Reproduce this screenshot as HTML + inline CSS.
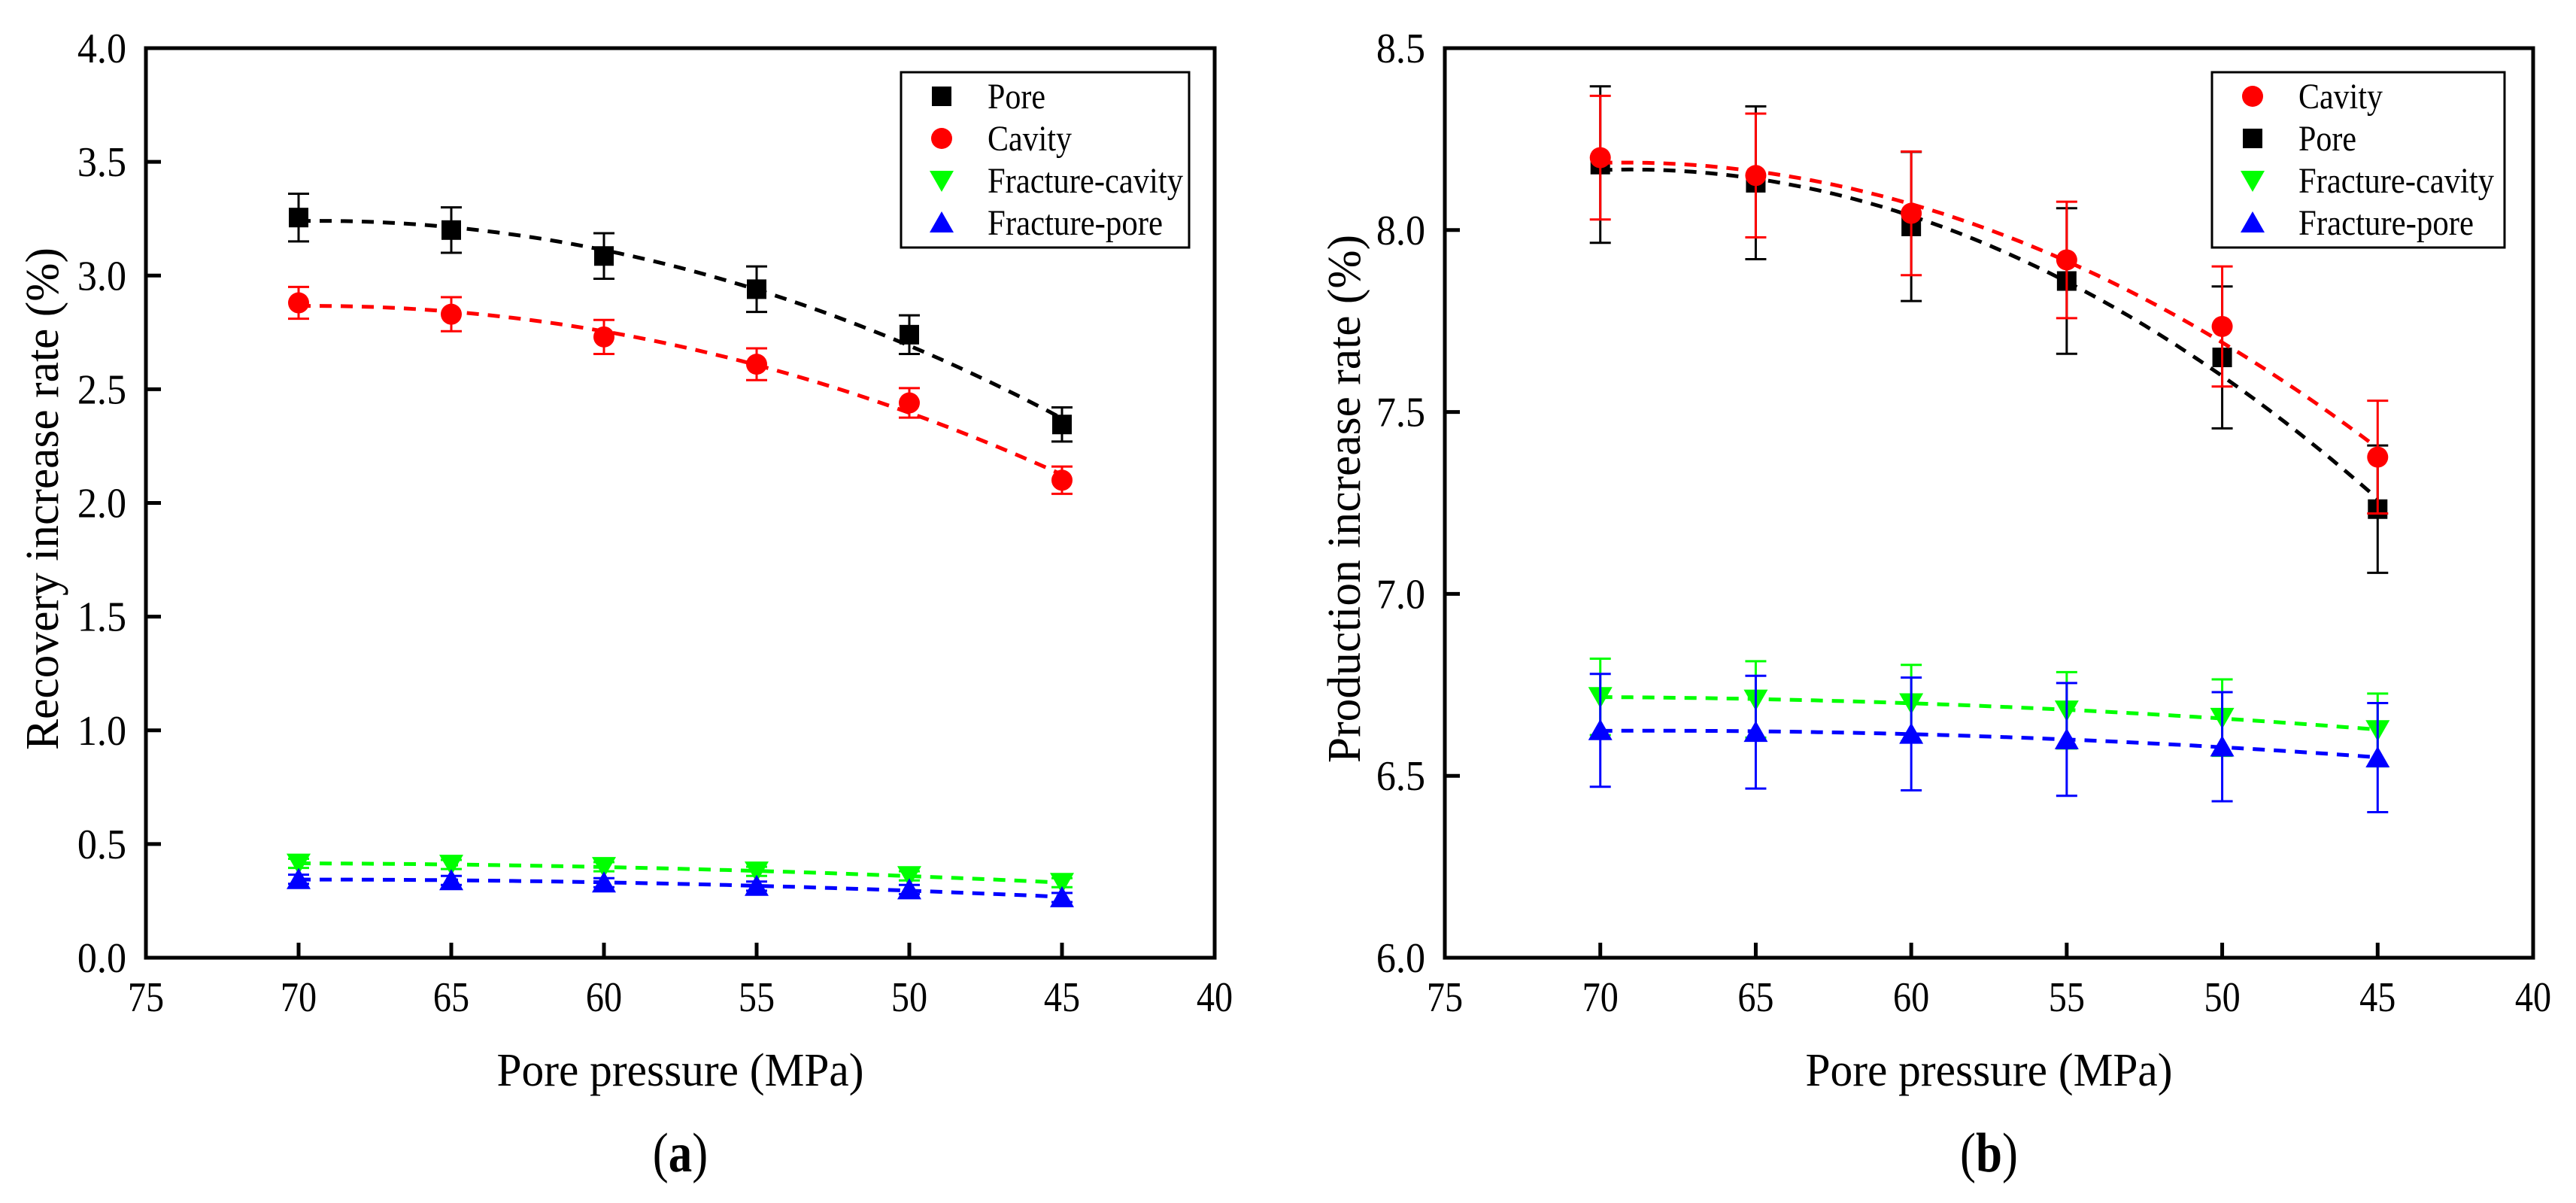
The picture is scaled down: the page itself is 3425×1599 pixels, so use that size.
<!DOCTYPE html>
<html><head><meta charset="utf-8">
<style>
html,body{margin:0;padding:0;background:#fff;}
svg{display:block;font-family:"Liberation Serif",serif;}
</style></head>
<body>
<svg id="fig" width="3425" height="1599" viewBox="0 0 3425 1599" xmlns="http://www.w3.org/2000/svg"></svg>
<script>
// ---- shared data ----
const pressures = [70, 65, 60, 55, 50, 45];
const xTicks = [75, 70, 65, 60, 55, 50, 45, 40];
// panel (a): recovery increase rate
const aYTicks = [0.0, 0.5, 1.0, 1.5, 2.0, 2.5, 3.0, 3.5, 4.0];
const aPore = [3.255, 3.20, 3.086, 2.94, 2.74, 2.345];
const aPoreErr = [0.105, 0.10, 0.10, 0.10, 0.085, 0.075];
const aCavity = [2.88, 2.83, 2.73, 2.61, 2.44, 2.10];
const aCavityErr = [0.07, 0.075, 0.075, 0.07, 0.065, 0.06];
const aFracCav = [0.415, 0.41, 0.40, 0.38, 0.36, 0.33];
const aFracCavErr = [0.02, 0.02, 0.02, 0.02, 0.02, 0.02];
const aFracPore = [0.345, 0.34, 0.33, 0.315, 0.30, 0.265];
const aFracPoreErr = [0.02, 0.02, 0.02, 0.02, 0.02, 0.02];
// panel (b): production increase rate
const bYTicks = [6.0, 6.5, 7.0, 7.5, 8.0, 8.5];
const bCavity = [8.199, 8.15, 8.046, 7.918, 7.735, 7.376];
const bCavityErr = [0.17, 0.17, 0.17, 0.16, 0.165, 0.155];
const bPore = [8.18, 8.13, 8.01, 7.86, 7.65, 7.233];
const bPoreErr = [0.215, 0.21, 0.205, 0.20, 0.195, 0.175];
const bFracCav = [6.717, 6.71, 6.70, 6.68, 6.66, 6.626];
const bFracCavErr = [0.105, 0.105, 0.105, 0.105, 0.105, 0.10];
const bFracPore = [6.625, 6.62, 6.615, 6.60, 6.58, 6.55];
const bFracPoreErr = [0.155, 0.155, 0.155, 0.155, 0.15, 0.15];

const NS = "http://www.w3.org/2000/svg";
const svg = document.getElementById('fig');
function el(tag, attrs, parent){
  const e = document.createElementNS(NS, tag);
  for (const k in attrs) e.setAttribute(k, attrs[k]);
  (parent||svg).appendChild(e);
  return e;
}
function squeeze(t, f){
  const w = t.getComputedTextLength();
  t.setAttribute('textLength', (w*f).toFixed(1));
  t.setAttribute('lengthAdjust', 'spacingAndGlyphs');
}
function fixLen(t, w){
  t.setAttribute('textLength', w);
  t.setAttribute('lengthAdjust', 'spacingAndGlyphs');
}
function quadFit(xs, ys){
  let S=[0,0,0,0,0], T=[0,0,0];
  for(let i=0;i<xs.length;i++){const x=xs[i]-57.5;let p=1;for(let k=0;k<5;k++){S[k]+=p; if(k<3)T[k]+=p*ys[i]; p*=x;}}
  const M=[[S[0],S[1],S[2],T[0]],[S[1],S[2],S[3],T[1]],[S[2],S[3],S[4],T[2]]];
  for(let i=0;i<3;i++){for(let j=i+1;j<3;j++){const f=M[j][i]/M[i][i];for(let k=i;k<4;k++)M[j][k]-=f*M[i][k];}}
  const c=[0,0,0];
  for(let i=2;i>=0;i--){let s=M[i][3];for(let k=i+1;k<3;k++)s-=M[i][k]*c[k];c[i]=s/M[i][i];}
  return x=>{const t=x-57.5;return c[0]+c[1]*t+c[2]*t*t;};
}
function marker(g, shape, cx, cy, color){
  let m;
  if(shape==='square') m=el('rect',{x:cx-13,y:cy-13,width:26,height:26,fill:color},g);
  else if(shape==='circle') m=el('circle',{cx:cx,cy:cy,r:14,fill:color},g);
  else if(shape==='down') m=el('polygon',{points:`${cx-16},${cy-13} ${cx+16},${cy-13} ${cx},${cy+15}`,fill:color},g);
  else m=el('polygon',{points:`${cx-16},${cy+13} ${cx+16},${cy+13} ${cx},${cy-15}`,fill:color},g);
  return m;
}
const legendWidths = {'Pore':77,'Cavity':112,'Fracture-cavity':260,'Fracture-pore':233};
let yTitleFactor = null;
function panel(opt){
  const L=opt.left, R=opt.right, T=64, B=1273;
  const xs = v => L + (75 - v) / 35 * (R - L);
  const ys = v => B - (v - opt.ymin) / (opt.ymax - opt.ymin) * (B - T);
  const g = el('g',{});
  
  
  opt.series.forEach(s=>{
    const sg = el('g',{},g);
    
    
    const f = quadFit(pressures, s.vals);
    let d='';
    for(let p=70;p>=45-0.001;p-=0.5){d+=(d?'L':'M')+xs(p).toFixed(1)+','+ys(f(p)).toFixed(1);}
    const ln = el('path',{d:d,fill:'none',stroke:s.color,'stroke-width':5,'stroke-dasharray':'16 12'},sg);
    
    
    pressures.forEach((p,i)=>{
      const x=xs(p), y1=ys(s.vals[i]+s.err[i]), y2=ys(s.vals[i]-s.err[i]);
      const eb = el('path',{d:`M${x},${y1}L${x},${y2}M${x-14},${y1}L${x+14},${y1}M${x-14},${y2}L${x+14},${y2}`,stroke:s.color,'stroke-width':3,fill:'none'},sg);
      
      
      const m = marker(sg, s.shape, x, ys(s.vals[i]), s.color);
      
      
    });
  });
  const fr = el('rect',{x:L,y:T,width:R-L,height:B-T,fill:'none',stroke:'#000','stroke-width':5},g);
  
  
  xTicks.forEach(v=>{
    const x=xs(v);
    const tk=el('line',{x1:x,y1:B,x2:x,y2:B-20,stroke:'#000','stroke-width':5},g);
    
    
    const t=el('text',{x:x,y:1344,'font-size':56,'text-anchor':'middle'},g);
    t.textContent=v;
    
    
    squeeze(t,0.86);
  });
  opt.yticks.forEach(v=>{
    const y=ys(v);
    const tk=el('line',{x1:L,y1:y,x2:L+20,y2:y,stroke:'#000','stroke-width':5},g);
    
    
    const t=el('text',{x:L-26,y:y+19,'font-size':56,'text-anchor':'end'},g);
    t.textContent=v.toFixed(1);
    
    
    squeeze(t,0.93);
  });
  const xt=el('text',{x:(L+R)/2,y:1443,'font-size':62,'text-anchor':'middle'},g);
  xt.textContent='Pore pressure (MPa)';
  
  
  fixLen(xt, 488);
  const yt=el('text',{x:0,y:0,'font-size':62,'text-anchor':'middle',transform:`translate(${opt.ytitleX},663) rotate(-90)`},g);
  yt.textContent=opt.ytitle;
  
  
  if(yTitleFactor===null){ yTitleFactor = 668/yt.getComputedTextLength(); }
  squeeze(yt, yTitleFactor);
  const pl=el('text',{x:(L+R)/2,y:1557,'font-size':74,'text-anchor':'middle'},g);
  pl.innerHTML='(<tspan font-weight="bold">'+opt.label+'</tspan>)';
  
  
  squeeze(pl,0.85);
  const lg=el('g',{},g);
  
  
  const lb=el('rect',{x:opt.legX,y:96,width:opt.legW,height:233,fill:'#fff',stroke:'#000','stroke-width':3},lg);
  
  
  opt.legendOrder.forEach((s,i)=>{
    const cy=128+i*56;
    const m=marker(lg,s.shape,opt.legX+54,cy,s.color);
    
    
    const t=el('text',{x:opt.legX+115,y:cy+16,'font-size':48},lg);
    t.textContent=s.label;
    
    
    fixLen(t, legendWidths[s.label]);
  });
}
const sPoreA={id:'pore',label:'Pore',shape:'square',color:'#000',vals:aPore,err:aPoreErr};
const sCavA={id:'cavity',label:'Cavity',shape:'circle',color:'#ff0000',vals:aCavity,err:aCavityErr};
const sFcA={id:'fracture-cavity',label:'Fracture-cavity',shape:'down',color:'#00ff00',vals:aFracCav,err:aFracCavErr};
const sFpA={id:'fracture-pore',label:'Fracture-pore',shape:'up',color:'#0000ff',vals:aFracPore,err:aFracPoreErr};
panel({name:'chart-a',left:194,right:1615,ymin:0,ymax:4,yticks:aYTicks,ytitle:'Recovery increase rate (%)',ytitleX:77,label:'a',
  legX:1198,legW:383,series:[sFcA,sFpA,sCavA,sPoreA],legendOrder:[sPoreA,sCavA,sFcA,sFpA]});
const sPoreB={id:'pore',label:'Pore',shape:'square',color:'#000',vals:bPore,err:bPoreErr};
const sCavB={id:'cavity',label:'Cavity',shape:'circle',color:'#ff0000',vals:bCavity,err:bCavityErr};
const sFcB={id:'fracture-cavity',label:'Fracture-cavity',shape:'down',color:'#00ff00',vals:bFracCav,err:bFracCavErr};
const sFpB={id:'fracture-pore',label:'Fracture-pore',shape:'up',color:'#0000ff',vals:bFracPore,err:bFracPoreErr};
panel({name:'chart-b',left:1921,right:3368,ymin:6,ymax:8.5,yticks:bYTicks,ytitle:'Production increase rate (%)',ytitleX:1808,label:'b',
  legX:2941,legW:389,series:[sFcB,sFpB,sPoreB,sCavB],legendOrder:[sCavB,sPoreB,sFcB,sFpB]});
</script>
</body></html>
